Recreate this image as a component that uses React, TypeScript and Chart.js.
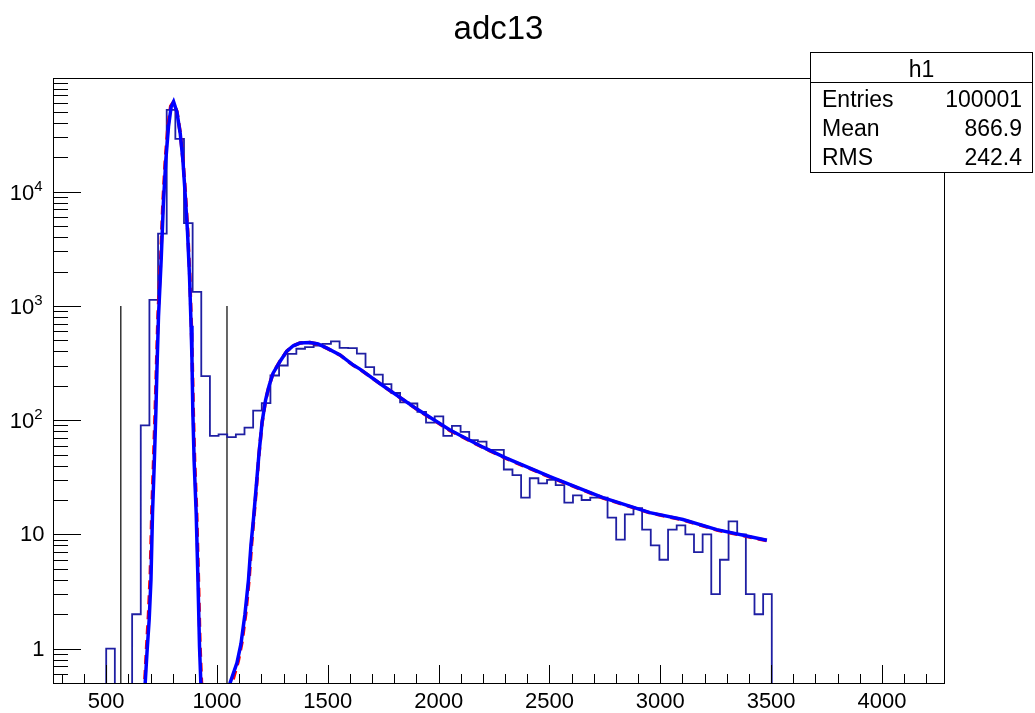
import React, { useEffect, useRef } from 'react';
import { Chart, registerables } from 'chart.js';

Chart.register(...registerables);

const FONT = "'Liberation Sans', Arial, Helvetica, sans-serif";

// ---- data ----
const chartTitle = 'adc13';

const binStart = 500;
const binWidth = 39;
const binCounts = [
  1, 0, 0, 2, 90, 1130, 4300, 52000, 29000, 5300,
  1330, 243, 73, 75, 71, 75, 86, 121, 141, 246,
  301, 381, 422, 436, 450, 465, 489, 430, 428, 383,
  291, 250, 207, 173, 143, 140, 118, 95, 108, 73,
  89, 79, 67, 65, 55, 55, 37, 33, 21, 31,
  28, 30, 27, 19, 22, 20, 21, 21, 14, 9,
  15, 17, 11, 8, 6, 11, 12, 10, 7, 10,
  3, 6, 13, 10, 3, 2, 3,
];

// blue fit: peak part
const bluePeakX = [670, 676, 684, 694, 702, 709, 717, 724, 729, 736, 748, 758, 769, 781, 793, 804, 819, 834, 846, 856, 867, 876, 883, 887, 891, 897, 906, 914, 921, 927, 932];
const bluePeakY = [0.4, 0.5, 0.92, 1.8, 4.0, 15.4, 42.5, 116, 280, 815, 2530, 7900, 18900, 37000, 55500, 61500, 50000, 32400, 18900, 9700, 4400, 1800, 670, 340, 116, 42.5, 15.4, 4.0, 1.05, 0.5, 0.4];
// blue fit: broad part
const blueTailX = [1052, 1059, 1090, 1108, 1126, 1142, 1153, 1165, 1176, 1189, 1203, 1219, 1235, 1253, 1284, 1314, 1344, 1374, 1419, 1456, 1496, 1555, 1613, 1645, 1749, 1902, 2051, 2200, 2300, 2502, 2741, 2953, 3102, 3255, 3481];
const blueTailY = [0.4, 0.5, 0.75, 1.1, 2, 4, 8, 14, 25, 50, 95, 150, 200, 258, 326, 399, 448, 473, 479, 466, 427, 373, 305, 280, 200, 125, 82, 58, 47, 32, 21, 15.5, 13.5, 11, 8.9];

// red dashed fit: peak part
const redPeakX = [667, 675, 682, 691, 699, 706, 714, 721, 727, 734, 746, 756, 767, 779, 791, 803, 819, 834, 846, 857, 868, 877, 884, 888, 893, 899, 908, 916, 923, 930, 935];
const redPeakY = [0.4, 0.55, 1.0, 2.0, 4.5, 16, 45, 120, 300, 850, 2600, 8100, 19500, 38000, 56000, 60500, 50500, 33000, 19500, 10000, 4500, 1850, 700, 350, 118, 44, 16, 4.2, 1.1, 0.5, 0.4];
// red dashed fit: broad part
const redTailX = [1060, 1068, 1096, 1113, 1130, 1145, 1156, 1167, 1178, 1190, 1204, 1220, 1236, 1254, 1285, 1315, 1345, 1375, 1419, 1457, 1497, 1556, 1614, 1646, 1750, 1903, 2052, 2201, 2301, 2503, 2742, 2954, 3103, 3256, 3483];
const redTailY = [0.4, 0.5, 0.78, 1.15, 2.05, 4.1, 8.2, 14.5, 26, 52, 97, 152, 203, 262, 330, 402, 450, 474, 478, 464, 425, 371, 303, 278, 199, 124, 81, 57.5, 46.5, 31.7, 20.8, 15.4, 13.4, 10.9, 8.8];

// black vertical marker lines
const markerLineX = [566, 1045];
const markerLineTop = [1000, 1000];

// axes
const xRange = [260, 4280];
const yRange = [0.5, 99000];
const xMajorTicks = [500, 1000, 1500, 2000, 2500, 3000, 3500, 4000];
const xMinorTicks = [300, 400, 600, 700, 800, 900, 1100, 1200, 1300, 1400, 1600, 1700, 1800, 1900, 2100, 2200, 2300, 2400, 2600, 2700, 2800, 2900, 3100, 3200, 3300, 3400, 3600, 3700, 3800, 3900, 4100, 4200];
const yMajorTicks = [1, 10, 100, 1000, 10000];
const yLabelBase = ['1', '10', '10', '10', '10'];
const yLabelExp = ['', '', '2', '3', '4'];
const yMinorTicks = [
  0.6, 0.7, 0.8, 0.9,
  2, 3, 4, 5, 6, 7, 8, 9,
  20, 30, 40, 50, 60, 70, 80, 90,
  200, 300, 400, 500, 600, 700, 800, 900,
  2000, 3000, 4000, 5000, 6000, 7000, 8000, 9000,
  20000, 30000, 40000, 50000, 60000, 70000, 80000, 90000,
];

// stats box
const statsName = 'h1';
const statsLabels = ['Entries', 'Mean', 'RMS'];
const statsValues = ['100001', '866.9', '242.4'];

// ---- helpers ----
const FLOOR = 0.1; // empty bins drawn below the visible range

function histogramPoints() {
  const pts: { x: number; y: number }[] = [{ x: binStart, y: FLOOR }];
  binCounts.forEach((c, i) => {
    const lo = binStart + i * binWidth;
    const hi = lo + binWidth;
    const v = c > 0 ? c : FLOOR;
    pts.push({ x: lo, y: v }, { x: hi, y: v });
  });
  pts.push({ x: binStart + binCounts.length * binWidth, y: FLOOR });
  return pts;
}

function zipPts(xs: number[], ys: number[]) {
  return xs.map((x, i) => ({ x, y: ys[i] }));
}

const framePlugin = {
  id: 'rootFrame',
  afterDatasetsDraw(chart: any) {
    const { ctx, chartArea } = chart;
    const xs = chart.scales.x;
    const ys = chart.scales.y;
    const L = chartArea.left, R = chartArea.right, T = chartArea.top, B = chartArea.bottom;
    ctx.save();
    ctx.strokeStyle = '#000';
    ctx.lineWidth = 1;
    ctx.beginPath();
    const xt = (v: number, len: number) => {
      const p = Math.round(xs.getPixelForValue(v)) + 0.5;
      ctx.moveTo(p, B);
      ctx.lineTo(p, B - len);
    };
    xMajorTicks.forEach((v) => xt(v, 18));
    xMinorTicks.forEach((v) => xt(v, 9));
    const yt = (v: number, len: number) => {
      const p = Math.round(ys.getPixelForValue(v)) + 0.5;
      ctx.moveTo(L, p);
      ctx.lineTo(L + len, p);
    };
    yMajorTicks.forEach((v) => yt(v, 28));
    yMinorTicks.forEach((v) => yt(v, 15));
    ctx.stroke();
    ctx.strokeRect(Math.round(L) + 0.5, Math.round(T) + 0.5, Math.round(R - L), Math.round(B - T));

    // y-axis labels with real superscripts
    ctx.fillStyle = '#000';
    yMajorTicks.forEach((v, i) => {
      const p = ys.getPixelForValue(v);
      const base = yLabelBase[i];
      const exp = yLabelExp[i];
      if (!exp) {
        ctx.font = `22px ${FONT}`;
        ctx.textAlign = 'right';
        ctx.textBaseline = 'middle';
        ctx.fillText(base, 44.5, p + 1);
      } else {
        ctx.font = `15px ${FONT}`;
        const ew = ctx.measureText(exp).width;
        const right = 42.5;
        ctx.textAlign = 'left';
        ctx.textBaseline = 'middle';
        ctx.fillText(exp, right - ew, p - 5);
        ctx.font = `22px ${FONT}`;
        ctx.textAlign = 'right';
        ctx.fillText(base, right - ew, p + 2);
      }
    });
    ctx.restore();
  },
  afterDraw(chart: any) {
    const { ctx } = chart;
    const bx = 810.5, by = 52.5, bw = 222, bh = 120;
    ctx.save();
    ctx.fillStyle = '#fff';
    ctx.fillRect(bx, by, bw, bh);
    ctx.strokeStyle = '#000';
    ctx.lineWidth = 1;
    ctx.strokeRect(bx, by, bw, bh);
    ctx.beginPath();
    ctx.moveTo(bx, 82.5);
    ctx.lineTo(bx + bw, 82.5);
    ctx.stroke();
    ctx.fillStyle = '#000';
    ctx.font = `23px ${FONT}`;
    ctx.textBaseline = 'alphabetic';
    ctx.textAlign = 'center';
    ctx.fillText(statsName, bx + bw / 2, 77);
    const baselines = [106.5, 135.5, 165];
    statsLabels.forEach((lab, i) => {
      ctx.textAlign = 'left';
      ctx.fillText(lab, 822, baselines[i]);
      ctx.textAlign = 'right';
      ctx.fillText(statsValues[i], 1022, baselines[i]);
    });
    ctx.restore();
  },
};

export default function App() {
  const ref = useRef<HTMLCanvasElement>(null);

  useEffect(() => {
    const canvas = ref.current;
    if (!canvas) return;

    const lineBase = { pointRadius: 0, pointHoverRadius: 0, tension: 0, fill: false, clip: 0 };

    const datasets: any[] = [
      { ...lineBase, label: 'fit2', data: zipPts(blueTailX, blueTailY), borderColor: '#0000ff', borderWidth: 3.5 },
      { ...lineBase, label: 'fit1', data: zipPts(bluePeakX, bluePeakY), borderColor: '#0000ff', borderWidth: 3.5 },
      { ...lineBase, label: 'total2', data: zipPts(redTailX, redTailY), borderColor: '#ff0000', borderWidth: 3.5, borderDash: [9, 6] },
      { ...lineBase, label: 'total1', data: zipPts(redPeakX, redPeakY), borderColor: '#ff0000', borderWidth: 3.5, borderDash: [9, 6] },
      { ...lineBase, label: 'h1', data: histogramPoints(), borderColor: '#1f1fa3', borderWidth: 1.8 },
      ...markerLineX.map((x, i) => ({
        ...lineBase,
        label: 'marker' + i,
        data: [{ x, y: FLOOR }, { x, y: markerLineTop[i] }],
        borderColor: '#000',
        borderWidth: 1.2,
      })),
    ];

    const chart = new Chart(canvas, {
      type: 'line',
      data: { datasets },
      plugins: [framePlugin],
      options: {
        responsive: false,
        animation: false,
        devicePixelRatio: 1,
        layout: { padding: { left: 0, right: 91, top: 0, bottom: 0 } },
        plugins: {
          legend: { display: false },
          tooltip: { enabled: false },
          title: {
            display: true,
            text: chartTitle,
            fullSize: false,
            color: '#000',
            font: { family: FONT, size: 33, weight: 'normal' },
            padding: { top: 10, bottom: 28.4 },
          },
        },
        scales: {
          x: {
            type: 'linear',
            min: xRange[0],
            max: xRange[1],
            grid: { display: false, drawTicks: false },
            border: { display: false },
            afterBuildTicks: (scale: any) => {
              scale.ticks = xMajorTicks.map((v) => ({ value: v }));
            },
            afterFit: (scale: any) => {
              scale.height = 30;
            },
            ticks: {
              autoSkip: false,
              maxRotation: 0,
              minRotation: 0,
              padding: 6,
              color: '#000',
              font: { family: FONT, size: 22 },
              callback: (v: any) => String(v),
            },
          },
          y: {
            type: 'logarithmic',
            min: yRange[0],
            max: yRange[1],
            grid: { display: false, drawTicks: false },
            border: { display: false },
            afterBuildTicks: (scale: any) => {
              scale.ticks = yMajorTicks.map((v) => ({ value: v }));
            },
            afterFit: (scale: any) => {
              scale.width = 53;
            },
            ticks: {
              display: false,
            },
          },
        },
      } as any,
    });

    return () => chart.destroy();
  }, []);

  return (
    <div>
      <canvas
        ref={ref}
        width={1035}
        height={713}
        style={{ position: 'absolute', left: 0, top: 0, display: 'block' }}
      />
    </div>
  );
}
